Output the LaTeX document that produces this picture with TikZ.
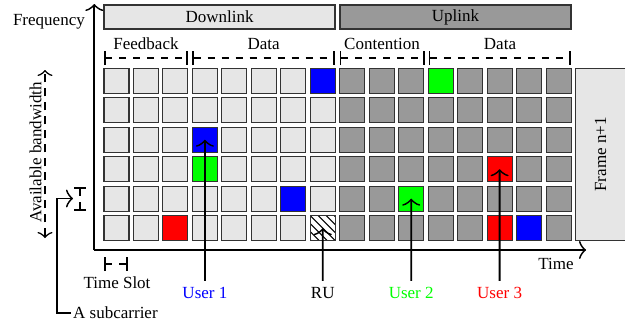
\documentclass[tikz,border=0pt]{standalone}
\usepackage{fontspec}
\setmainfont{Liberation Serif}
\usetikzlibrary{arrows.meta,calc}
\definecolor{lg}{HTML}{E6E6E6}
\definecolor{dg}{HTML}{999999}
\definecolor{bd}{HTML}{333333}
\tikzset{
  cell/.style={draw=bd,line width=1.1pt,minimum size=25pt,inner sep=0pt,outer sep=0pt},
  hdr/.style={draw=bd,line width=1.1pt,minimum width=231pt,minimum height=24pt,inner sep=0pt},
  ar/.style={line width=1.8pt,-{Classical TikZ Rightarrow[length=7pt,width=18pt]}},
  dimline/.style={line width=1.6pt,dash pattern=on 7pt off 7pt,{Bar[width=14pt]}-{Bar[width=14pt]}},
  smalldim/.style={line width=1.6pt,dash pattern=on 8pt off 6pt,{Bar[width=12pt]}-{Bar[width=12pt]}},
  bwarrow/.style={line width=1.6pt,dash pattern=on 8pt off 6pt,{Classical TikZ Rightarrow[length=6pt,width=15pt]}-{Classical TikZ Rightarrow[length=6pt,width=15pt]}}
}
\begin{document}
\begin{tikzpicture}[x=1pt,y=-1pt,font=\fontsize{17}{20}\selectfont]
\useasboundingbox (0,0) rectangle (636,327);
% grid
\foreach \c in {0,...,15}{
  \foreach \r in {0,...,5}{
    \pgfmathsetmacro\xx{116.5+29.47*\c}
    \pgfmathsetmacro\yy{80.8+29.47*\r}
    \ifnum\c<8 \def\cf{lg}\else\def\cf{dg}\fi
    \node[cell,fill=\cf] (c-\c-\r) at (\xx,\yy) {};
  }
}
\foreach \c/\r/\col [count=\i] in {7/0/blue,11/0/green,3/2/blue,3/3/green,13/3/red,6/4/blue,10/4/green,2/5/red,13/5/red,14/5/blue}
  \node[cell,fill=\col] (k\i) at (c-\c-\r) {};
% RU hatched cell
\node[cell,fill=white] (ru) at (c-7-5) {};
\begin{scope}
  \clip (ru.south west) rectangle (ru.north east);
  \foreach \k in {-32,-24,...,24}
    \draw[line width=1.1pt] ($(ru.north west)+(\k,0)$) -- ++(25,25);
\end{scope}
\draw[bd,line width=1.1pt] (ru.south west) rectangle (ru.north east);
% headers
\node[hdr,fill=lg] (dl) at (219.5,17) {Downlink};
\node[hdr,fill=dg] (ul) at (455.5,17) {Uplink};
% section braces
\coordinate (fb1) at (104,58); \coordinate (fb2) at (188,58);
\coordinate (dd1) at (192.4,58); \coordinate (dd2) at (335,58);
\coordinate (ct1) at (339.8,58); \coordinate (ct2) at (424.5,58);
\coordinate (du1) at (428.7,58); \coordinate (du2) at (571,58);
\draw[dimline] (fb1) -- (fb2);
\draw[dimline] (dd1) -- (dd2);
\draw[dimline] (ct1) -- (ct2);
\draw[dimline] (du1) -- (du2);
\node (lfb) at (146,44) {Feedback};
\node (ldd) at (263.7,44) {Data};
\node (lct) at (382,44) {Contention};
\node (ldu) at (500,44) {Data};
% frame n+1
\node[fill=lg,minimum width=49pt,minimum height=171pt,inner sep=0pt] (fr) at (600.5,154.5) {};
\draw[bd,line width=1.1pt] (fr.north east) -- (fr.north west) -- (fr.south west) -- (fr.south east);
\node[rotate=90] (frt) at (fr) {Frame n+1};
% axes
\coordinate (o) at (94.3,250);
\coordinate (ytop) at (94.3,4);
\coordinate (xend) at (586,250);
\draw[ar] (o) -- (ytop);
\draw[ar] (o) -- (xend);
\node[anchor=east,inner sep=1pt] (freq) at (86,22) {Frequency};
\node (time) at (556,264) {Time};
% available bandwidth
\coordinate (bwb) at (45,238);
\coordinate (bwt) at (45,70);
\draw[bwarrow] (bwb) -- (bwt);
\node[rotate=90] (bwl) at (35.5,152.5) {Available bandwidth};
% subcarrier marker
\coordinate (sc1) at (80,187);
\coordinate (sc2) at (80,211);
\draw[smalldim] (sc1) -- (sc2);
\node[anchor=west,inner sep=2pt] (sub) at (71,313) {A subcarrier};
\coordinate (subtip) at (73,198.5);
\draw[ar] (sub.west) -- ++(-14,0) |- (subtip);
% time slot marker
\coordinate (ts1) at (104,264);
\coordinate (ts2) at (128,264);
\draw[dimline] (ts1) -- (ts2);
\node (tsl) at (117,283) {Time Slot};
% users
\node[text=blue] (u1) at (204.9,293) {User 1};
\node (rul) at (322.8,293) {RU};
\node[text=green] (u2) at (411.2,293) {User 2};
\node[text=red] (u3) at (499.6,293) {User 3};
\draw[ar,shorten <=3pt] (u1) -- (c-3-2.center);
\draw[ar,shorten <=3pt] (rul) -- (ru.center);
\draw[ar,shorten <=3pt] (u2) -- (c-10-4.center);
\draw[ar,shorten <=3pt] (u3) -- (c-13-3.center);
\end{tikzpicture}
\end{document}
